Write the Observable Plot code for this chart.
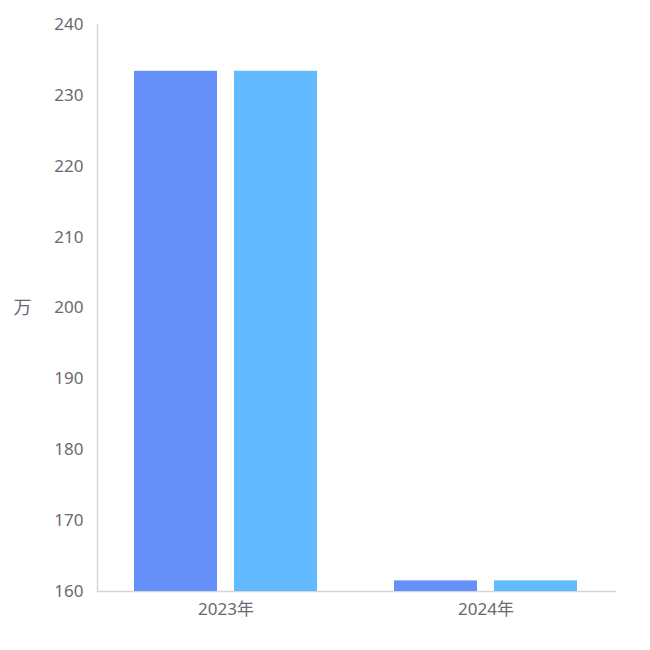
<!DOCTYPE html>
<html><head><meta charset="utf-8">
<script src="https://cdn.jsdelivr.net/npm/d3@7"></script>
<script src="https://cdn.jsdelivr.net/npm/@observablehq/plot@0.6"></script>
<style>body{margin:0;background:#fff;font-family:"Noto Sans","Noto Sans CJK SC",sans-serif}</style>
</head><body><div id="chart"></div>
<script>
const years = ["2023年", "2024年"];
const seriesNames = ["A", "B"];
const seriesA = [233.4, 161.5];
const seriesB = [233.4, 161.5];
const yTicks = [160, 170, 180, 190, 200, 210, 220, 230, 240];
const colors = ["#6690F9", "#62BBFF"];
const yUnit = "万";

const data = [];
years.forEach((y, i) => {
  data.push({year: y, s: seriesNames[0], v: seriesA[i]});
  data.push({year: y, s: seriesNames[1], v: seriesB[i]});
});

const chart = Plot.plot({
  width: 650, height: 650,
  marginLeft: 133, marginRight: 72, marginTop: 24, marginBottom: 59,
  style: {fontFamily: '"Noto Sans","Noto Sans CJK SC",sans-serif', fontSize: "17px", color: "#6e7079"},
  fx: {domain: years, paddingInner: 0.295, paddingOuter: 0, label: null},
  x: {domain: seriesNames, paddingInner: 0.17, paddingOuter: 0, axis: null},
  y: {domain: [160, 240], ticks: yTicks, label: null},
  color: {domain: seriesNames, range: colors},
  marks: [
    Plot.frame({anchor: "left", stroke: "#d6d6d6", strokeWidth: 1.5, insetLeft: -37, facet: "super"}),
    Plot.frame({anchor: "bottom", stroke: "#d6d6d6", strokeWidth: 1.5, insetLeft: -37, insetRight: -38, facet: "super"}),
    Plot.barY(data, {fx: "year", x: "s", y1: 160, y2: "v", fill: "s"}),
    Plot.axisFx({anchor: "bottom", tickSize: 0, tickPadding: 11, fontSize: 17, label: null, fill: "#666a73"}),
    Plot.axisY({ticks: yTicks, tickSize: 0, tickPadding: 51, fontSize: 17, label: null, fill: "#666a73"}),
    Plot.text([yUnit], {frameAnchor: "left", dx: -121, fontSize: 18, fill: "#666a73", facet: "super"})
  ]
});
document.getElementById("chart").appendChild(chart);
</script></body></html>
